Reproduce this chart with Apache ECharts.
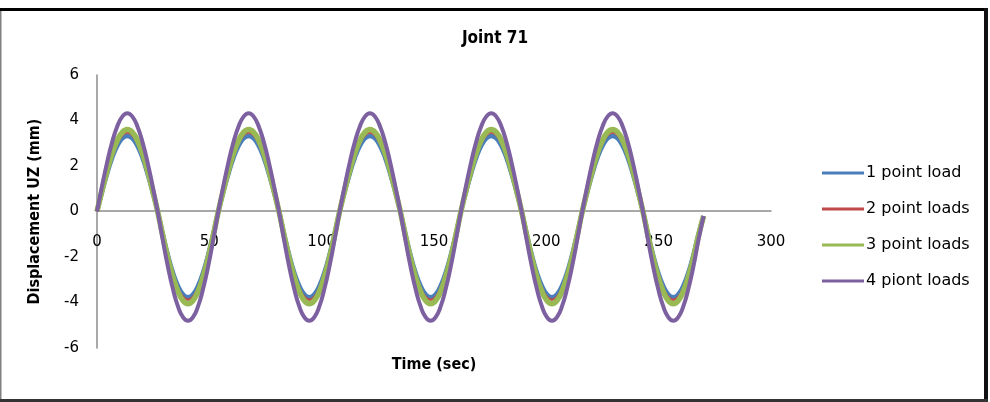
<!DOCTYPE html>
<html>
<head>
<meta charset="utf-8">
<title>Joint 71</title>
<script src="https://cdn.jsdelivr.net/npm/echarts@6/dist/echarts.min.js"></script>
</head>
<body style="margin:0;background:#fff;">
<div id="main" style="width:990px;height:402px;"></div>
<script type="text/javascript">
// time samples (sec)
var times = [0, 2.25, 4.5, 6.75, 9, 11.25, 13.5, 15.75, 18, 20.25, 22.5, 24.75, 27, 29.25, 31.5, 33.75, 36, 38.25, 40.5, 42.75, 45, 47.25, 49.5, 51.75,
    54, 56.25, 58.5, 60.75, 63, 65.25, 67.5, 69.75, 72, 74.25, 76.5, 78.75, 81, 83.25, 85.5, 87.75, 90, 92.25, 94.5, 96.75, 99, 101.25, 103.5, 105.75,
    108, 110.25, 112.5, 114.75, 117, 119.25, 121.5, 123.75, 126, 128.25, 130.5, 132.75, 135, 137.25, 139.5, 141.75, 144, 146.25, 148.5, 150.75, 153, 155.25, 157.5, 159.75,
    162, 164.25, 166.5, 168.75, 171, 173.25, 175.5, 177.75, 180, 182.25, 184.5, 186.75, 189, 191.25, 193.5, 195.75, 198, 200.25, 202.5, 204.75, 207, 209.25, 211.5, 213.75,
    216, 218.25, 220.5, 222.75, 225, 227.25, 229.5, 231.75, 234, 236.25, 238.5, 240.75, 243, 245.25, 247.5, 249.75, 252, 254.25, 256.5, 258.75, 261, 263.25, 265.5, 267.75,
    270];

// displacement UZ (mm)
var onePoint = [0, 0.86, 1.66, 2.35, 2.88, 3.21, 3.32, 3.21, 2.88, 2.35, 1.66, 0.86, 0, -0.98, -1.89, -2.67, -3.26, -3.64, -3.77, -3.64, -3.26, -2.67, -1.89, -0.98,
    0, 0.86, 1.66, 2.35, 2.88, 3.21, 3.32, 3.21, 2.88, 2.35, 1.66, 0.86, 0, -0.98, -1.89, -2.67, -3.26, -3.64, -3.77, -3.64, -3.26, -2.67, -1.89, -0.98,
    0, 0.86, 1.66, 2.35, 2.88, 3.21, 3.32, 3.21, 2.88, 2.35, 1.66, 0.86, 0, -0.98, -1.89, -2.67, -3.26, -3.64, -3.77, -3.64, -3.26, -2.67, -1.89, -0.98,
    0, 0.86, 1.66, 2.35, 2.88, 3.21, 3.32, 3.21, 2.88, 2.35, 1.66, 0.86, 0, -0.98, -1.89, -2.67, -3.26, -3.64, -3.77, -3.64, -3.26, -2.67, -1.89, -0.98,
    0, 0.86, 1.66, 2.35, 2.88, 3.21, 3.32, 3.21, 2.88, 2.35, 1.66, 0.86, 0, -0.98, -1.89, -2.67, -3.26, -3.64, -3.77, -3.64, -3.26, -2.67, -1.89, -0.98,
    -0.2];
var twoPoint = [0, 0.9, 1.74, 2.45, 3.0, 3.35, 3.47, 3.35, 3.0, 2.45, 1.74, 0.9, 0, -1.0, -1.94, -2.74, -3.36, -3.75, -3.88, -3.75, -3.36, -2.74, -1.94, -1.0,
    0, 0.9, 1.74, 2.45, 3.0, 3.35, 3.47, 3.35, 3.0, 2.45, 1.74, 0.9, 0, -1.0, -1.94, -2.74, -3.36, -3.75, -3.88, -3.75, -3.36, -2.74, -1.94, -1.0,
    0, 0.9, 1.74, 2.45, 3.0, 3.35, 3.47, 3.35, 3.0, 2.45, 1.74, 0.9, 0, -1.0, -1.94, -2.74, -3.36, -3.75, -3.88, -3.75, -3.36, -2.74, -1.94, -1.0,
    0, 0.9, 1.74, 2.45, 3.0, 3.35, 3.47, 3.35, 3.0, 2.45, 1.74, 0.9, 0, -1.0, -1.94, -2.74, -3.36, -3.75, -3.88, -3.75, -3.36, -2.74, -1.94, -1.0,
    0, 0.9, 1.74, 2.45, 3.0, 3.35, 3.47, 3.35, 3.0, 2.45, 1.74, 0.9, 0, -1.0, -1.94, -2.74, -3.36, -3.75, -3.88, -3.75, -3.36, -2.74, -1.94, -1.0,
    -0.2];
var threePoint = [0, 0.93, 1.8, 2.55, 3.12, 3.48, 3.6, 3.48, 3.12, 2.55, 1.8, 0.93, 0, -1.05, -2.03, -2.86, -3.51, -3.91, -4.05, -3.91, -3.51, -2.86, -2.03, -1.05,
    0, 0.93, 1.8, 2.55, 3.12, 3.48, 3.6, 3.48, 3.12, 2.55, 1.8, 0.93, 0, -1.05, -2.03, -2.86, -3.51, -3.91, -4.05, -3.91, -3.51, -2.86, -2.03, -1.05,
    0, 0.93, 1.8, 2.55, 3.12, 3.48, 3.6, 3.48, 3.12, 2.55, 1.8, 0.93, 0, -1.05, -2.03, -2.86, -3.51, -3.91, -4.05, -3.91, -3.51, -2.86, -2.03, -1.05,
    0, 0.93, 1.8, 2.55, 3.12, 3.48, 3.6, 3.48, 3.12, 2.55, 1.8, 0.93, 0, -1.05, -2.03, -2.86, -3.51, -3.91, -4.05, -3.91, -3.51, -2.86, -2.03, -1.05,
    0, 0.93, 1.8, 2.55, 3.12, 3.48, 3.6, 3.48, 3.12, 2.55, 1.8, 0.93, 0, -1.05, -2.03, -2.86, -3.51, -3.91, -4.05, -3.91, -3.51, -2.86, -2.03, -1.05,
    -0.2];
var fourPoint = [0, 1.12, 2.16, 3.05, 3.74, 4.17, 4.32, 4.17, 3.74, 3.05, 2.16, 1.12, 0, -1.24, -2.4, -3.39, -4.16, -4.64, -4.8, -4.64, -4.16, -3.39, -2.4, -1.24,
    0, 1.12, 2.16, 3.05, 3.74, 4.17, 4.32, 4.17, 3.74, 3.05, 2.16, 1.12, 0, -1.24, -2.4, -3.39, -4.16, -4.64, -4.8, -4.64, -4.16, -3.39, -2.4, -1.24,
    0, 1.12, 2.16, 3.05, 3.74, 4.17, 4.32, 4.17, 3.74, 3.05, 2.16, 1.12, 0, -1.24, -2.4, -3.39, -4.16, -4.64, -4.8, -4.64, -4.16, -3.39, -2.4, -1.24,
    0, 1.12, 2.16, 3.05, 3.74, 4.17, 4.32, 4.17, 3.74, 3.05, 2.16, 1.12, 0, -1.24, -2.4, -3.39, -4.16, -4.64, -4.8, -4.64, -4.16, -3.39, -2.4, -1.24,
    0, 1.12, 2.16, 3.05, 3.74, 4.17, 4.32, 4.17, 3.74, 3.05, 2.16, 1.12, 0, -1.24, -2.4, -3.39, -4.16, -4.64, -4.8, -4.64, -4.16, -3.39, -2.4, -1.24,
    -0.2];

var names = ['1 point load', '2 point loads', '3 point loads', '4 piont loads'];
var colors = ['#4a7ebb', '#be4b48', '#98b954', '#7d60a0'];
var widths = [4.5, 2.5, 5.5, 4];
var values = [onePoint, twoPoint, threePoint, fourPoint];

function pairs(ys) {
    return times.map(function (t, i) { return [t, ys[i]]; });
}

var myChart = echarts.init(document.getElementById('main'));
myChart.setOption({
    backgroundColor: '#ffffff',
    animation: false,
    title: {
        text: 'Joint 71',
        left: 'center',
        top: 25,
        textStyle: {
            fontFamily: 'DejaVu Sans Condensed',
            fontWeight: 'bold',
            fontSize: 17,
            color: '#000'
        }
    },
    legend: {
        orient: 'vertical',
        left: 817,
        top: 160,
        itemWidth: 42,
        itemHeight: 14,
        itemGap: 20,
        data: names.map(function (n, i) {
            return { name: n, icon: 'path://M0,0 L42,0 L42,3 L0,3 Z', itemStyle: { color: colors[i] } };
        }),
        textStyle: {
            fontFamily: 'DejaVu Sans',
            fontSize: 16,
            color: '#000',
            padding: [0, 0, 0, -3]
        }
    },
    grid: {
        left: 97,
        right: 219,
        top: 75,
        bottom: 54,
        containLabel: false,
        outerBoundsMode: 'none'
    },
    xAxis: {
        type: 'value',
        min: 0,
        max: 300,
        interval: 50,
        offset: -137,
        name: 'Time (sec)',
        nameLocation: 'middle',
        nameGap: 146,
        nameTextStyle: {
            fontFamily: 'DejaVu Sans Condensed',
            fontWeight: 'bold',
            fontSize: 16,
            color: '#000'
        },
        axisLine: { onZero: false, lineStyle: { color: '#8c8c8c', width: 1.5 } },
        axisTick: { show: false },
        splitLine: { show: false },
        axisLabel: {
            margin: 24,
            fontFamily: 'DejaVu Sans',
            fontSize: 15,
            color: '#000'
        }
    },
    yAxis: {
        type: 'value',
        min: -6,
        max: 6,
        interval: 2,
        name: 'Displacement UZ (mm)',
        nameLocation: 'middle',
        nameGap: 54,
        nameTextStyle: {
            fontFamily: 'DejaVu Sans Condensed',
            fontWeight: 'bold',
            fontSize: 16,
            color: '#000'
        },
        axisLine: { show: true, onZero: false, lineStyle: { color: '#8c8c8c', width: 1.5 } },
        axisTick: { show: false },
        splitLine: { show: false },
        axisLabel: {
            margin: 18,
            fontFamily: 'DejaVu Sans',
            fontSize: 15,
            color: '#000'
        }
    },
    series: values.map(function (ys, i) {
        return {
            name: names[i],
            type: 'line',
            data: pairs(ys),
            smooth: true,
            symbol: 'none',
            color: colors[i],
            lineStyle: { color: colors[i], width: widths[i] },
            z: 2 + i
        };
    }),
    graphic: [
        { type: 'rect', shape: { x: 0, y: 8, width: 988, height: 3 }, style: { fill: '#000' } },
        { type: 'rect', shape: { x: 0, y: 11, width: 1.5, height: 391 }, style: { fill: '#808080' } },
        { type: 'rect', shape: { x: 984, y: 8, width: 4, height: 394 }, style: { fill: '#111' } },
        { type: 'rect', shape: { x: 0, y: 399, width: 988, height: 3 }, style: { fill: '#333' } }
    ]
});
</script>
</body>
</html>
